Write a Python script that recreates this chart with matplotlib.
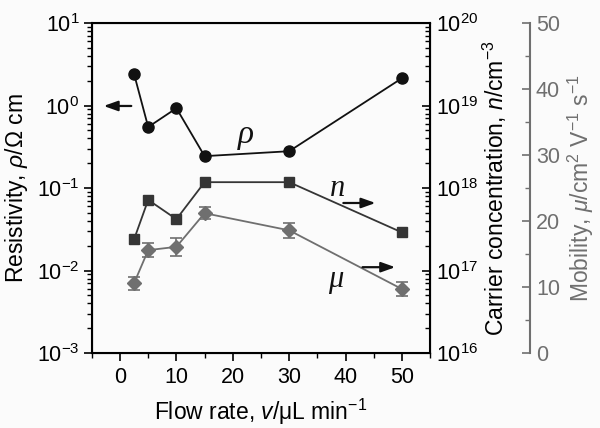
import matplotlib
matplotlib.use("Agg")
import matplotlib.pyplot as plt
from matplotlib.ticker import MultipleLocator, LogLocator, NullFormatter
import numpy as np

plt.rcParams['font.family'] = ['Liberation Sans', 'DejaVu Sans']
plt.rcParams['mathtext.fontset'] = 'custom'
plt.rcParams['mathtext.rm'] = 'Liberation Sans'
plt.rcParams['mathtext.it'] = 'Liberation Sans:italic'
plt.rcParams['mathtext.default'] = 'regular'

# data
flow = [2.5, 5, 10, 15, 30, 50]
rho = [2.41, 0.55, 0.93, 0.244, 0.28, 2.15]            # ohm cm
conc = [2.4e17, 7.2e17, 4.2e17, 1.18e18, 1.18e18, 2.9e17]  # cm^-3
conc_err = [0.08, 0.08, 0.08, 0.08, 0.08, 0.08]       # relative
mob = [10.6, 15.6, 16.1, 21.2, 18.6, 9.7]               # cm2/Vs
mob_err = [1.0, 1.1, 1.4, 0.9, 1.1, 1.05]

c_rho = '#111111'
c_n = '#353535'
c_mu = '#6f6f6f'
bg = '#fbfbfb'
fs_tick = 15.5
fs_lab = 16.5

fig = plt.figure(figsize=(6.0, 4.28), dpi=100, facecolor=bg)
ax = fig.add_axes([0.153, 0.175, 0.564, 0.771])
ax.set_facecolor(bg)

# resistivity
ax.plot(flow, rho, '-o', color=c_rho, lw=1.3, ms=8, zorder=5)
ax.set_yscale('log')
ax.set_ylim(1e-3, 1e1)
ax.set_xlim(-5, 55)
ax.xaxis.set_major_locator(MultipleLocator(10))
ax.xaxis.set_minor_locator(MultipleLocator(5))
ax.yaxis.set_minor_locator(LogLocator(base=10, subs=np.arange(2, 10)))
ax.yaxis.set_minor_formatter(NullFormatter())
ax.tick_params(axis='both', which='major', labelsize=fs_tick, length=6, width=1.2, direction='out')
ax.tick_params(axis='both', which='minor', length=3.5, width=1.0, direction='out')
ax.tick_params(axis='x', which='major', pad=4)
ax.tick_params(axis='y', which='major', pad=3)
ax.spines['top'].set_linewidth(1.5)
ax.spines['left'].set_linewidth(1.5)
ax.spines['bottom'].set_linewidth(1.5)
ax.set_xlabel(r'Flow rate, $\mathit{v}$/$\mu$L min$^{-1}$', fontsize=fs_lab, labelpad=6)
ax.set_ylabel(r'Resistivity, $\mathit{\rho}$/$\Omega$ cm', fontsize=fs_lab, labelpad=5)

# carrier concentration
ax2 = ax.twinx()
conc_lo = [c * e for c, e in zip(conc, conc_err)]
ax2.errorbar(flow, conc, yerr=[conc_lo, conc_lo], fmt='-s', color=c_n, lw=1.3,
             ms=7, capsize=3, elinewidth=1.2, capthick=1.2, zorder=4)
ax2.set_yscale('log')
ax2.set_ylim(1e16, 1e20)
ax2.yaxis.set_minor_locator(LogLocator(base=10, subs=np.arange(2, 10)))
ax2.yaxis.set_minor_formatter(NullFormatter())
ax2.tick_params(axis='y', which='major', labelsize=fs_tick, length=6, width=1.2, direction='in', pad=4)
ax2.tick_params(axis='y', which='minor', length=3.5, width=1.0, direction='in')
ax2.spines['right'].set_linewidth(1.5)
ax2.set_ylabel(r'Carrier concentration, $\mathit{n}$/cm$^{-3}$', fontsize=fs_lab, labelpad=2)

# mobility
ax3 = ax.twinx()
ax3.spines['right'].set_position(('axes', 1.296))
ax3.spines['right'].set_color(c_mu)
ax3.spines['right'].set_linewidth(1.5)
for s in ['top', 'left', 'bottom']:
    ax3.spines[s].set_visible(False)
ax3.errorbar(flow, mob, yerr=mob_err, fmt='-D', color=c_mu, lw=1.3, ms=7.5,
             capsize=4, elinewidth=1.2, capthick=1.2, zorder=3)
ax3.set_ylim(0, 50)
ax3.yaxis.set_major_locator(MultipleLocator(10))
ax3.yaxis.set_minor_locator(MultipleLocator(5))
ax3.tick_params(axis='y', which='major', labelsize=fs_tick, length=6, width=1.2, direction='in',
                colors=c_mu, pad=4)
ax3.tick_params(axis='y', which='minor', length=3.5, width=1.0, direction='in', colors=c_mu)
ax3.set_ylabel(r'Mobility, $\mathit{\mu}$/cm$^2$ V$^{-1}$ s$^{-1}$', fontsize=fs_lab, color=c_mu, labelpad=4)

# annotations on the main axes
arrow = dict(arrowstyle='-|>,head_length=0.7,head_width=0.25', color='#111111', lw=1.6,
             mutation_scale=12, shrinkA=0, shrinkB=0)
ax.annotate('', xy=(-2.9, 0.99), xytext=(2.0, 0.99), arrowprops=arrow)
ax.annotate('', xy=(45.3, 0.066), xytext=(39.6, 0.066), arrowprops=arrow)
ax.annotate('', xy=(48.8, 0.011), xytext=(43.0, 0.011), arrowprops=arrow)
ax.text(22.4, 0.44, 'ρ', fontsize=24, ha='center', va='center',
        family='Liberation Serif', style='italic', color=c_rho)
ax.text(38.5, 0.10, 'n', fontsize=22, ha='center', va='center',
        family='Liberation Serif', style='italic', color=c_rho)
ax.text(38.2, 0.0077, 'μ', fontsize=22, ha='center', va='center',
        family='Liberation Serif', style='italic', color=c_rho)

ax.set_zorder(ax3.get_zorder() + 2)
ax.patch.set_visible(False)
ax2.set_zorder(ax3.get_zorder() + 1)
ax3.set_facecolor(bg)

fig.savefig('out.png', dpi=100, facecolor=bg)
